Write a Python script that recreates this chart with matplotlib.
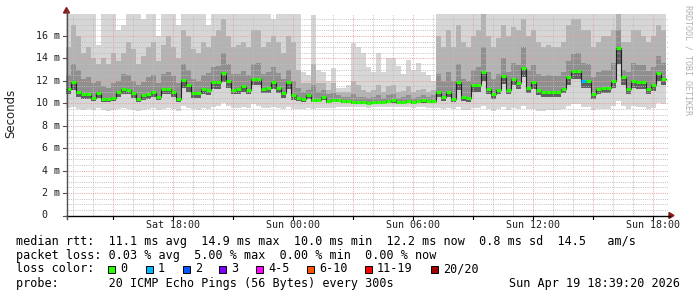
import numpy as np
import matplotlib
matplotlib.use("Agg")
import matplotlib.pyplot as plt
from matplotlib.patches import Rectangle, Polygon

# ---------------- data (milliseconds, 15-minute steps) ----------------
START_HOUR = 12.65          # hours after Sat 00:00
STEP_HOURS = 0.25

median = [11.3, 11.9, 11.0, 10.8, 10.8, 10.5, 10.9, 10.35, 10.4, 10.5,
          11.0, 11.3, 11.2, 10.9, 10.35, 10.7, 10.8, 11.0, 10.6, 11.3,
          11.3, 11.0, 10.4, 12.1, 11.6, 10.9, 10.9, 11.3, 11.2, 11.9,
          11.9, 12.7, 12.0, 11.2, 11.3, 11.5, 11.2, 12.2, 12.2, 11.3,
          11.4, 11.9, 11.4, 10.9, 11.9, 10.7, 10.5, 10.4, 10.7, 10.3,
          10.3, 10.6, 10.2, 10.3, 10.3, 10.2, 10.2, 10.15, 10.1, 10.1,
          10.05, 10.1, 10.15, 10.1, 10.2, 10.3, 10.1, 10.15, 10.2, 10.1,
          10.2, 10.3, 10.2, 10.2, 11.0, 10.6, 11.0, 10.4, 11.9, 10.6,
          10.5, 11.6, 11.6, 12.8, 11.3, 10.8, 11.2, 12.4, 11.2, 12.2,
          11.8, 13.1, 11.4, 11.9, 11.2, 11.0, 11.0, 11.0, 11.0, 11.3,
          12.3, 12.9, 12.9, 12.0, 12.0, 10.8, 11.3, 11.4, 11.4, 12.0,
          14.9, 12.3, 11.3, 12.0, 11.9, 11.9, 11.3, 11.6, 12.7, 12.2]

lo = [9.6, 9.7, 9.5, 9.4, 9.5, 9.4, 9.6, 9.4, 9.3, 9.4,
      9.5, 9.6, 9.5, 9.4, 9.3, 9.4, 9.5, 9.6, 9.4, 9.5,
      9.6, 9.5, 9.3, 9.8, 9.6, 9.5, 9.4, 9.6, 9.5, 9.7,
      9.8, 10.0, 9.8, 9.6, 9.6, 9.7, 9.6, 9.9, 9.8, 9.6,
      9.6, 9.7, 9.6, 9.5, 9.7, 9.5, 9.5, 9.5, 9.6, 9.5,
      9.6, 9.6, 9.6, 9.6, 9.7, 9.7, 9.7, 9.7, 9.7, 9.7,
      9.6, 9.7, 9.7, 9.7, 9.7, 9.7, 9.7, 9.7, 9.7, 9.6,
      9.7, 9.7, 9.6, 9.6, 9.6, 9.5, 9.6, 9.5, 9.7, 9.4,
      9.4, 9.6, 9.6, 9.8, 9.5, 9.3, 9.5, 9.7, 9.4, 9.6,
      9.5, 9.8, 9.5, 9.5, 9.3, 9.3, 9.4, 9.4, 9.4, 9.5,
      9.8, 9.9, 9.9, 9.7, 9.7, 9.4, 9.5, 9.5, 9.5, 9.8,
      10.2, 9.8, 9.5, 9.8, 9.7, 9.7, 9.5, 9.6, 10.0, 9.9]

p25 = [10.8, 11.2, 10.6, 10.4, 10.4, 10.2, 10.5, 10.1, 10.1, 10.2,
       10.6, 10.8, 10.8, 10.5, 10.1, 10.3, 10.4, 10.6, 10.3, 10.8,
       10.8, 10.6, 10.1, 11.4, 11.0, 10.5, 10.5, 10.8, 10.7, 11.3,
       11.3, 11.9, 11.4, 10.8, 10.8, 11.0, 10.8, 11.6, 11.6, 10.9,
       10.9, 11.3, 10.9, 10.5, 11.3, 10.3, 10.2, 10.1, 10.4, 10.1,
       10.1, 10.3, 10.0, 10.1, 10.1, 10.0, 10.0, 9.95, 9.9, 9.9,
       9.9, 9.9, 9.95, 9.9, 10.0, 10.05, 9.9, 9.95, 10.0, 9.9,
       10.0, 10.05, 10.0, 10.0, 10.6, 10.2, 10.6, 10.1, 11.2, 10.2,
       10.1, 11.0, 11.0, 12.0, 10.8, 10.4, 10.8, 11.7, 10.8, 11.6,
       11.3, 12.3, 10.9, 11.3, 10.7, 10.6, 10.6, 10.6, 10.6, 10.9,
       11.6, 12.2, 12.2, 11.4, 11.4, 10.4, 10.8, 10.9, 10.9, 11.4,
       13.5, 11.6, 10.8, 11.4, 11.3, 11.3, 10.8, 11.1, 12.0, 11.6]

p75 = [12.5, 13.5, 13.0, 12.2, 12.3, 11.8, 12.0, 11.5, 11.4, 11.8,
       12.0, 12.6, 12.5, 12.0, 11.6, 11.9, 12.3, 12.5, 11.8, 12.6,
       12.8, 12.4, 11.8, 13.5, 13.0, 12.2, 12.0, 12.5, 12.7, 13.2,
       13.3, 14.5, 13.5, 12.6, 12.6, 12.9, 12.5, 13.5, 13.6, 12.6,
       12.8, 13.2, 12.7, 12.2, 13.0, 12.0, 11.4, 11.0, 11.2, 11.6,
       11.0, 11.2, 10.8, 10.9, 10.7, 10.6, 10.6, 10.8, 10.6, 10.6,
       10.5, 10.6, 10.7, 10.5, 10.7, 10.8, 10.5, 10.6, 10.7, 10.5,
       10.6, 10.7, 10.6, 10.7, 12.6, 12.0, 12.8, 12.0, 13.5, 12.2,
       12.0, 13.0, 13.2, 15.0, 12.8, 12.2, 12.6, 14.0, 12.8, 13.6,
       13.4, 15.0, 13.0, 13.4, 12.6, 12.4, 12.5, 12.4, 12.4, 12.8,
       13.8, 14.4, 14.5, 13.6, 13.5, 12.3, 12.8, 13.0, 13.0, 13.6,
       16.5, 13.0, 12.8, 13.6, 13.4, 13.4, 12.9, 13.2, 14.2, 13.6]

p90 = [15.0, 17.0, 16.0, 14.5, 15.0, 14.0, 13.5, 14.0, 13.5, 14.5,
       13.8, 14.5, 15.5, 14.8, 13.5, 14.2, 15.0, 15.5, 13.8, 15.2,
       16.0, 15.0, 14.0, 16.5, 16.0, 14.8, 14.5, 15.5, 15.0, 16.0,
       16.5, 17.5, 16.0, 15.0, 15.2, 15.5, 15.0, 16.5, 16.5, 15.0,
       15.5, 16.0, 15.5, 14.5, 16.0, 15.5, 13.0, 11.8, 11.8, 13.5,
       11.8, 11.8, 11.2, 11.8, 11.0, 11.0, 11.0, 12.0, 11.6, 11.2,
       11.0, 11.2, 11.6, 11.0, 11.5, 11.6, 11.0, 11.1, 11.5, 11.0,
       11.2, 11.3, 11.0, 11.2, 16.0, 15.0, 16.5, 15.0, 17.0, 15.5,
       15.0, 16.0, 16.5, 18.0, 16.0, 15.0, 15.8, 17.0, 16.0, 16.8,
       16.5, 17.5, 16.0, 16.5, 15.5, 15.0, 15.2, 15.0, 15.0, 15.5,
       17.0, 17.5, 17.5, 16.5, 16.5, 15.0, 15.5, 16.0, 16.0, 16.5,
       18.0, 15.5, 15.5, 16.5, 16.5, 16.0, 15.5, 16.0, 17.0, 16.5]

hi = [18, 18, 18, 18, 18, 18, 15.2, 18, 18, 18,
      16.5, 17, 18, 18, 18, 17.5, 18, 18, 16, 18,
      18, 18, 17, 18, 18, 18, 18, 18, 17, 18,
      18, 18, 18, 18, 18, 18, 18, 18, 18, 18,
      18, 17.5, 18, 18, 18, 18, 18, 12.8, 12.5, 17.9,
      13.0, 12.8, 12.0, 13.1, 11.4, 11.4, 11.6, 15.4, 15.0, 14.5,
      13.2, 12.8, 14.5, 12.8, 14.0, 14.0, 13.3, 12.6, 13.9, 13.0,
      13.6, 12.8, 12.5, 12.0, 18, 18, 18, 18, 18, 18,
      18, 18, 18, 18, 18, 18, 18, 18, 18, 18,
      18, 18, 18, 18, 18, 18, 18, 18, 18, 18,
      18, 18, 18, 18, 18, 18, 18, 18, 18, 18,
      18, 18, 18, 18, 18, 18, 18, 18, 18, 18]

# lost pings (out of 20) per step
loss = [0] * 120
loss[103] = 1

loss_labels = ["0", "1", "2", "3", "4-5", "6-10", "11-19", "20/20"]
loss_colors = ["#26ff00", "#00b8ff", "#0059ff", "#7e00ff",
               "#ff00ff", "#ff5500", "#ff0000", "#a00000"]
loss_upper = [0, 1, 2, 3, 5, 10, 19, 20]

x_tick_hours = [18, 24, 30, 36, 42]
x_tick_labels = ["Sat 18:00", "Sun 00:00", "Sun 06:00", "Sun 12:00", "Sun 18:00"]
y_tick_values = [0, 2, 4, 6, 8, 10, 12, 14, 16]

legend_lines = [
    "median rtt:  11.1 ms avg  14.9 ms max  10.0 ms min  12.2 ms now  0.8 ms sd  14.5   am/s",
    "packet loss: 0.03 % avg  5.00 % max  0.00 % min  0.00 % now",
    "loss color:",
    "probe:       20 ICMP Echo Pings (56 Bytes) every 300s",
]
timestamp = "Sun Apr 19 18:39:20 2026"

# ---------------- figure ----------------
W, H = 697, 297
fig = plt.figure(figsize=(W / 100, H / 100), dpi=100)
fig.patch.set_facecolor("white")

AX_L, AX_R, AX_T, AX_B = 66, 668, 13.5, 215.5
ax = fig.add_axes([AX_L / W, 1 - AX_B / H, (AX_R - AX_L) / W, (AX_B - AX_T) / H])
XMIN, XMAX = 12.665, 12.665 + (AX_R - AX_L) / 20.0
YMIN, YMAX = 0, 18
ax.set_xlim(XMIN, XMAX)
ax.set_ylim(YMIN, YMAX)
ax.axis("off")


def fx(px):
    return px / W


def fy(py):
    return 1 - py / H


n = len(median)
edges = START_HOUR + STEP_HOURS * np.arange(n + 1)


def ext(a):
    a = np.asarray(a, dtype=float)
    return np.append(a, a[-1])


# smoke layers
ax.fill_between(edges, ext(lo), ext(hi), step="post", color="#d6d6d6", lw=0, zorder=1)
ax.fill_between(edges, ext(p25), ext(p90), step="post", color="#b3b3b3", lw=0, zorder=1.1)
ax.fill_between(edges, ext(p25), ext(p75), step="post", color="#8f8f8f", lw=0, zorder=1.2)
ax.fill_between(edges, ext(p25), ext(median), step="post", color="#606060", lw=0, zorder=1.3)

# grid (1 px dots)
minor_grid = "#bdbdbd"
major_grid = "#eb9c9c"
dot = dict(lw=0.72, ls=(0, (1, 1.2)), zorder=3)
for h in range(13, 43):
    c = major_grid if h % 3 == 0 else minor_grid
    ax.plot([h, h], [YMIN, YMAX], color=c, alpha=0.9, **dot)
for k in range(1, 36):
    v = 0.5 * k
    c = major_grid if k % 4 == 0 else minor_grid
    ax.plot([XMIN, XMAX], [v, v], color=c, alpha=0.9, **dot)

# median: dark connectors + coloured steps
ax.step(edges, ext(median), where="post", color="#202020", lw=0.8, zorder=4)


def loss_color(k):
    for up, col in zip(loss_upper, loss_colors):
        if k <= up:
            return col
    return loss_colors[-1]


seg_cols = [loss_color(k) for k in loss]
ax.hlines(median, edges[:-1], edges[1:], colors=seg_cols, lw=2.2, zorder=5,
          capstyle="butt")

# axes lines and arrows
fig.add_artist(plt.Line2D([fx(AX_L), fx(670)], [fy(AX_B), fy(AX_B)],
                          color="black", lw=1.0, transform=fig.transFigure))
fig.add_artist(plt.Line2D([fx(AX_L + 0.5), fx(AX_L + 0.5)], [fy(AX_B + 3), fy(11)],
                          color="#505050", lw=1.0, transform=fig.transFigure))
fig.add_artist(Polygon([(fx(669), fy(AX_B - 3)), (fx(669), fy(AX_B + 3)),
                        (fx(674), fy(AX_B))], closed=True, color="#8b1a1a",
                       transform=fig.transFigure))
fig.add_artist(Polygon([(fx(AX_L - 2.5), fy(13)), (fx(AX_L + 3.5), fy(13)),
                        (fx(AX_L + 0.5), fy(7.5))], closed=True, color="#8b1a1a",
                       transform=fig.transFigure))

# x ticks (every 3 hours) and labels
for h in range(15, 43, 3):
    px = AX_L + (h - XMIN) * 20
    fig.add_artist(plt.Line2D([fx(px), fx(px)], [fy(AX_B), fy(AX_B + 3)],
                              color="black", lw=0.8, transform=fig.transFigure))
mono = "DejaVu Sans Mono"
for h, lab in zip(x_tick_hours, x_tick_labels):
    px = AX_L + (h - XMIN) * 20
    fig.text(fx(px), fy(224.5), lab, ha="center", va="center",
             fontsize=7.2, family=mono, color="#202020")

# y labels
for v in y_tick_values:
    py = AX_B - (v - YMIN) * (AX_B - AX_T) / (YMAX - YMIN)
    s = f"{v:2d} m" if v else " 0"
    fig.text(fx(36), fy(py), s, ha="left", va="center", fontsize=7.2,
             family=mono, color="#202020")
    fig.add_artist(plt.Line2D([fx(AX_L - 3), fx(AX_L)], [fy(py), fy(py)],
                              color="#505050", lw=0.8, transform=fig.transFigure))

fig.text(fx(11), fy(113), "Seconds", rotation=90, ha="center", va="center",
         fontsize=8.5, family="DejaVu Sans", color="#202020")
fig.text(fx(688), fy(60), "RRDTOOL / TOBI OETIKER", rotation=270, ha="center",
         va="center", fontsize=6, family=mono, color="#b0b0b0")

# legend
line_y = [241, 255, 269, 283]
for s, py in zip(legend_lines, line_y):
    fig.text(fx(16), fy(py), s, ha="left", va="center", fontsize=8.5,
             family=mono, color="black")
fig.text(fx(680), fy(283), timestamp, ha="right", va="center", fontsize=8.5,
         family=mono, color="black")

box_x = [108, 146, 183, 219, 256, 307, 365, 431]
for bx, lab, col in zip(box_x, loss_labels, loss_colors):
    fig.add_artist(Rectangle((fx(bx), fy(272.5)), 7 / W, 7 / H, facecolor=col,
                             edgecolor="black", lw=0.7, transform=fig.transFigure))
    fig.text(fx(bx + 12), fy(269), lab, ha="left", va="center", fontsize=8.5,
             family=mono, color="black")

fig.savefig("out.png", dpi=100, facecolor="white")
